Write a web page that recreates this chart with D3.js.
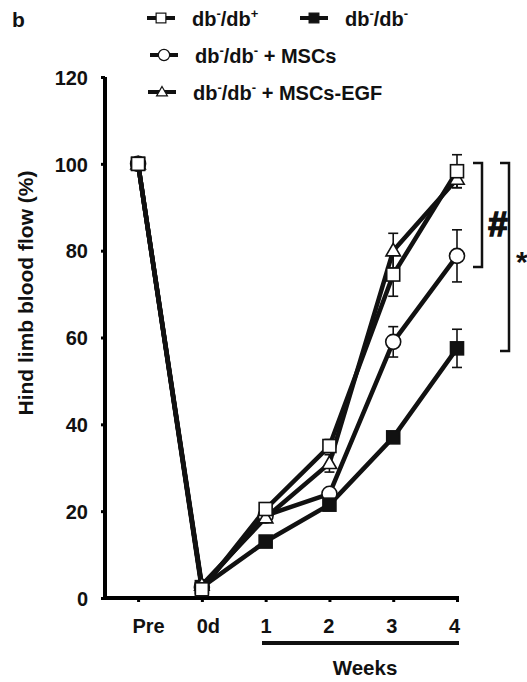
<!DOCTYPE html>
<html>
<head>
<style>
  body { margin: 0; background: #fff; }
  text { font-family: "Liberation Sans", Arial, sans-serif; font-weight: bold; fill: #111; }
</style>
</head>
<body>
<div id="viz"></div>
<script src="https://d3js.org/d3.v7.min.js"></script>
<script>
  const width = 527, height = 682;

  // data
  const xLabels = ["Pre", "0d", "1", "2", "3", "4"];
  const yTicks = [0, 20, 40, 60, 80, 100, 120];
  const dbPlus = [100, 2, 20.5, 35, 74.5, 98.3];
  const dbPlusErr = [0, 0, 1, 1.5, 5, 3.8];
  const dbMinus = [100, 2.5, 13, 21.5, 37, 57.5];
  const dbMinusErr = [0, 0, 1, 1, 1, 4.4];
  const msc = [100, 2.5, 19, 24, 59, 78.8];
  const mscErr = [0, 0, 1, 1, 3.5, 6];
  const mscEgf = [100, 3, 18.5, 31, 80, 96.5];
  const mscEgfErr = [0, 0, 1, 2, 4, 2];

  const series = [
    { name: "msc", values: msc, err: mscErr, shape: "circle" },
    { name: "dbMinus", values: dbMinus, err: dbMinusErr, shape: "filled" },
    { name: "mscEgf", values: mscEgf, err: mscEgfErr, shape: "triangle" },
    { name: "dbPlus", values: dbPlus, err: dbPlusErr, shape: "square" }
  ];

  const svg = d3.select("#viz").append("svg")
      .attr("width", width)
      .attr("height", height);

  const x = d3.scaleLinear().domain([-0.55, 5]).range([103, 457]);
  const y = d3.scaleLinear().domain([0, 120]).range([598, 77]);

  // axes
  const yAxis = svg.append("g")
      .attr("transform", "translate(105,0)")
      .call(d3.axisLeft(y).tickValues(yTicks).tickSize(4).tickPadding(13));
  yAxis.select(".domain").attr("stroke-width", 4).attr("d", "M0," + y(120) + "V" + y(0));
  yAxis.selectAll(".tick line").attr("stroke-width", 3);
  yAxis.selectAll(".tick text").style("font-size", "20px").attr("dy", "0.36em");

  const labelShift = [10, 6, 0, -1, -2, -3];
  const xAxis = svg.append("g")
      .attr("transform", "translate(0," + y(0) + ")")
      .call(d3.axisBottom(x).tickValues(d3.range(xLabels.length))
        .tickFormat(i => xLabels[i]).tickSize(4).tickPadding(17));
  xAxis.select(".domain").attr("stroke-width", 4).attr("d", "M103,0H459");
  xAxis.selectAll(".tick line").attr("stroke-width", 3);
  xAxis.selectAll(".tick text").style("font-size", "20px")
      .attr("dx", (d, i) => labelShift[i]);

  // weeks underline
  svg.append("line")
      .attr("x1", 262).attr("x2", 459)
      .attr("y1", 643).attr("y2", 643)
      .attr("stroke", "#111").attr("stroke-width", 4);
  svg.append("text").attr("x", 365).attr("y", 675)
      .attr("text-anchor", "middle").style("font-size", "20.5px").text("Weeks");

  svg.append("text")
      .attr("transform", "translate(33,293) rotate(-90)")
      .attr("text-anchor", "middle").style("font-size", "21px")
      .text("Hind limb blood flow (%)");

  svg.append("text").attr("x", 12).attr("y", 27).style("font-size", "21px").text("b");

  const line = d3.line().x((d, i) => x(i)).y(d => y(d));

  // lines
  series.forEach(s => {
    svg.append("path").datum(s.values)
        .attr("d", line)
        .attr("fill", "none")
        .attr("stroke", "#111")
        .attr("stroke-width", 4.5)
        .attr("stroke-linejoin", "round");
  });

  // error bars
  series.forEach(s => {
    const g = svg.append("g").attr("stroke", "#111").attr("stroke-width", 1.6);
    s.values.forEach((v, i) => {
      const e = s.err[i];
      if (!e) return;
      g.append("line").attr("x1", x(i)).attr("x2", x(i)).attr("y1", y(v - e)).attr("y2", y(v + e));
      g.append("line").attr("x1", x(i) - 5).attr("x2", x(i) + 5).attr("y1", y(v - e)).attr("y2", y(v - e));
      g.append("line").attr("x1", x(i) - 5).attr("x2", x(i) + 5).attr("y1", y(v + e)).attr("y2", y(v + e));
    });
  });

  function marker(g, shape, cx, cy) {
    if (shape === "square" || shape === "filled") {
      g.append("rect").attr("x", cx - 6.5).attr("y", cy - 6.5).attr("width", 13).attr("height", 13)
          .attr("fill", shape === "filled" ? "#111" : "#fff")
          .attr("stroke", "#111").attr("stroke-width", 1.6);
    } else if (shape === "circle") {
      g.append("circle").attr("cx", cx).attr("cy", cy).attr("r", 7.5)
          .attr("fill", "#fff").attr("stroke", "#111").attr("stroke-width", 1.6);
    } else {
      g.append("path")
          .attr("d", d3.symbol(d3.symbolTriangle, 90)())
          .attr("transform", "translate(" + cx + "," + (cy + 1) + ")")
          .attr("fill", "#fff").attr("stroke", "#111").attr("stroke-width", 1.6);
    }
  }

  series.forEach(s => {
    const g = svg.append("g");
    s.values.forEach((v, i) => marker(g, s.shape, x(i), y(v)));
  });

  // significance brackets
  function bracket(bx, y1, y2) {
    svg.append("path")
        .attr("d", "M" + (bx - 9) + "," + y1 + "H" + bx + "V" + y2 + "H" + (bx - 9))
        .attr("fill", "none").attr("stroke", "#111").attr("stroke-width", 2.5);
  }
  bracket(482, 163, 267);
  bracket(509, 163, 351);
  svg.append("text").attr("x", 498).attr("y", 236).attr("text-anchor", "middle")
      .style("font-size", "35px").style("stroke", "#111").style("stroke-width", 1.5)
      .text("#");
  svg.append("text").attr("x", 516).attr("y", 272)
      .style("font-size", "30px").text("*");

  // legend
  const legendItems = [
    { shape: "square", x: 147, y: 18, sup2: "+", tail: "" },
    { shape: "filled", x: 300, y: 18, sup2: "-", tail: "" },
    { shape: "circle", x: 150, y: 55, sup2: "-", tail: " + MSCs" },
    { shape: "triangle", x: 148, y: 92, sup2: "-", tail: " + MSCs-EGF" }
  ];
  legendItems.forEach(d => {
    const g = svg.append("g");
    g.append("line").attr("x1", d.x).attr("x2", d.x + 28).attr("y1", d.y).attr("y2", d.y)
        .attr("stroke", "#111").attr("stroke-width", 4);
    const m = g.append("g").attr("transform", "translate(" + (d.x + 14) + "," + d.y + ") scale(0.75)");
    marker(m, d.shape, 0, 0);
    const t = g.append("text").attr("x", d.x + 45).attr("y", d.y + 8).style("font-size", "20px");
    t.append("tspan").text("db");
    t.append("tspan").attr("dy", -8).style("font-size", "13px").text("-");
    t.append("tspan").attr("dy", 8).text("/db");
    t.append("tspan").attr("dy", -8).style("font-size", "13px").text(d.sup2);
    t.append("tspan").attr("dy", 8).text(d.tail);
  });
</script>
</body>
</html>
